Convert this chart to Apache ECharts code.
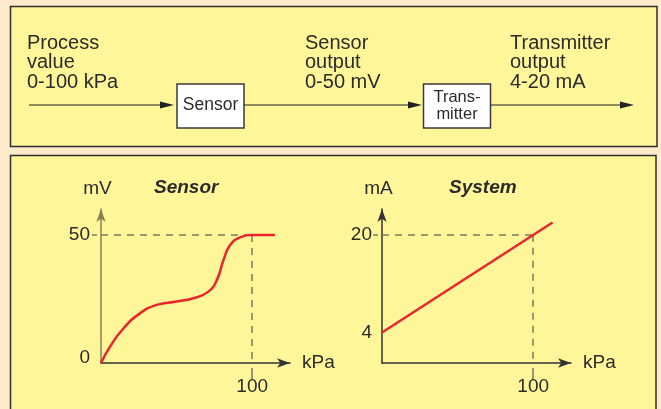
<!DOCTYPE html>
<html><head><meta charset="utf-8">
<script src="https://cdn.jsdelivr.net/npm/echarts@6/dist/echarts.min.js"></script>
<style>html,body{margin:0;padding:0;background:#FEEBCB;} #c{width:661px;height:409px;}</style>
</head><body><div id="c"></div>
<script>
// ---- data ----
const sensorX = [0, 6, 14.8, 25.8, 36.9, 50, 61, 71, 76.6, 81, 85.4, 92, 100, 115];
const sensorY = [0, 6.4, 13.5, 19.4, 22.7, 24, 25.3, 27.9, 32.4, 40.2, 46.1, 49.1, 50, 50];
const systemX = [0, 112.8];
const systemY = [4, 22];
const kpaTicks = [100];
const mvTicks = [0, 50];
const maTicks = [4, 20];
const mvFull = 50, maFull = 20, kpaFull = 100;
const maAxisMin = -1;

const FONT = '"Liberation Sans", Arial, sans-serif';
const TXT = '#2b2b2b';
const RED = '#E8262B';
const DASH = '#7E7A5E';
const AX = '#333333';
const OLIVE = '#8B8054';

const chart = echarts.init(document.getElementById('c'), null, {renderer: 'canvas'});

function label(text, x, y, size, extra) {
  return Object.assign({type: 'text', z: 5, style: Object.assign({
    text: text, x: x, y: y, font: size + 'px ' + FONT, fill: TXT,
    lineHeight: 19.5, verticalAlign: 'top', align: 'left'
  }, extra || {})});
}
function arrowLine(x1, x2, y) {
  return [
    {type: 'line', z: 4, shape: {x1: x1, y1: y, x2: x2 - 10, y2: y}, style: {stroke: '#222', lineWidth: 1.2}},
    {type: 'polygon', z: 4, shape: {points: [[x2 - 14, y - 3.5], [x2, y], [x2 - 14, y + 3.5]]}, style: {fill: '#222'}}
  ];
}

const graphics = [
  {type: 'rect', z: -10, shape: {x: 10.5, y: 6.5, width: 646.5, height: 140}, style: {fill: '#FFF69A', stroke: '#2E2E2E', lineWidth: 1.5}},
  {type: 'rect', z: -10, shape: {x: 10.5, y: 155.5, width: 645.5, height: 270}, style: {fill: '#FFF69A', stroke: '#2E2E2E', lineWidth: 1.5}},
  {type: 'rect', z: 4, shape: {x: 177, y: 84, width: 67, height: 44}, style: {fill: '#ffffff', stroke: '#3a3a3a', lineWidth: 1.5}},
  {type: 'rect', z: 4, shape: {x: 423.5, y: 84, width: 67, height: 44}, style: {fill: '#ffffff', stroke: '#3a3a3a', lineWidth: 1.5}},
  ...arrowLine(29, 174, 105),
  ...arrowLine(244, 422, 105),
  ...arrowLine(491, 634, 105),
  label('Process\nvalue\n0-100 kPa', 27, 33.5, 20),
  label('Sensor\noutput\n0-50 mV', 305, 33.5, 20),
  label('Transmitter\noutput\n4-20 mA', 510, 33.5, 20),
  label('Sensor', 210.5, 105, 17.5, {align: 'center', verticalAlign: 'middle'}),
  label('Trans-\nmitter', 457, 105.5, 16.5, {align: 'center', verticalAlign: 'middle', lineHeight: 17}),
  label('Sensor', 154, 188, 19, {verticalAlign: 'middle', font: 'italic bold 19px ' + FONT}),
  label('System', 449, 188, 19, {verticalAlign: 'middle', font: 'italic bold 19px ' + FONT})
];

function xAxisOpt(grid) {
  return {
    type: 'value', gridIndex: grid, min: 0, max: 125,
    name: 'kPa', nameLocation: 'end', nameGap: 12,
    nameTextStyle: {fontSize: 19, color: TXT, fontFamily: FONT},
    axisLine: {onZero: false, symbol: ['none', 'arrow'], symbolSize: [7, 13], lineStyle: {color: AX, width: 1.5}},
    axisTick: {show: true, customValues: kpaTicks, length: 17, lineStyle: {color: DASH, width: 1.5, type: [0, 5, 12, 20]}},
    axisLabel: {customValues: kpaTicks, margin: 14, fontSize: 19, color: TXT, fontFamily: FONT},
    splitLine: {show: false}
  };
}

const option = {
  animation: false,
  backgroundColor: '#FEEBCB',
  graphic: graphics,
  grid: [
    {left: 101, top: 209, width: 189, height: 154},
    {left: 382, top: 209, width: 189, height: 154}
  ],
  xAxis: [xAxisOpt(0), xAxisOpt(1)],
  yAxis: [
    {
      type: 'value', gridIndex: 0, min: 0, max: 60.2,
      name: 'mV', nameLocation: 'end', nameGap: 11,
      nameTextStyle: {fontSize: 19, color: TXT, fontFamily: FONT, padding: [0, 7, 0, 0]},
      axisLine: {onZero: false, symbol: ['none', 'arrow'], symbolSize: [7, 13], lineStyle: {color: OLIVE, width: 1.5}},
      axisTick: {show: true, customValues: [mvFull], length: 9, lineStyle: {color: DASH, width: 1.5, type: [0, 4, 5, 20]}},
      axisLabel: {
        customValues: mvTicks, margin: 11, fontSize: 19, color: TXT, fontFamily: FONT,
        formatter: v => v === 0 ? '{z|0}' : String(v),
        rich: {z: {fontSize: 19, color: TXT, fontFamily: FONT, padding: [0, 0, 10, 0]}}
      },
      splitLine: {show: false}
    },
    {
      type: 'value', gridIndex: 1, min: maAxisMin, max: 24.2,
      name: 'mA', nameLocation: 'end', nameGap: 11,
      nameTextStyle: {fontSize: 19, color: TXT, fontFamily: FONT, padding: [0, 7, 0, 0]},
      axisLine: {onZero: false, symbol: ['none', 'arrow'], symbolSize: [7, 13], lineStyle: {color: AX, width: 1.5}},
      axisTick: {show: true, customValues: [maFull], length: 9, lineStyle: {color: DASH, width: 1.5, type: [0, 4, 5, 20]}},
      axisLabel: {customValues: maTicks, margin: 10, fontSize: 19, color: TXT, fontFamily: FONT},
      splitLine: {show: false}
    }
  ],
  series: [
    {
      type: 'line', xAxisIndex: 0, yAxisIndex: 0,
      data: sensorX.map((x, i) => [x, sensorY[i]]),
      smooth: 0.5, showSymbol: false, z: 3,
      lineStyle: {color: RED, width: 2.5},
      markLine: {
        silent: true, symbol: 'none', label: {show: false}, z: 2,
        lineStyle: {color: DASH, width: 1.5, type: [7, 6]},
        data: [
          [{coord: [0, mvFull]}, {coord: [kpaFull, mvFull]}],
          [{coord: [kpaFull, mvFull]}, {coord: [kpaFull, 0]}]
        ]
      }
    },
    {
      type: 'line', xAxisIndex: 1, yAxisIndex: 1,
      data: systemX.map((x, i) => [x, systemY[i]]),
      showSymbol: false, z: 3,
      lineStyle: {color: RED, width: 2.5},
      markLine: {
        silent: true, symbol: 'none', label: {show: false}, z: 2,
        lineStyle: {color: DASH, width: 1.5, type: [7, 6]},
        data: [
          [{coord: [0, maFull]}, {coord: [kpaFull, maFull]}],
          [{coord: [kpaFull, maFull]}, {coord: [kpaFull, maAxisMin]}]
        ]
      }
    }
  ]
};
chart.setOption(option);
</script>
</body></html>
